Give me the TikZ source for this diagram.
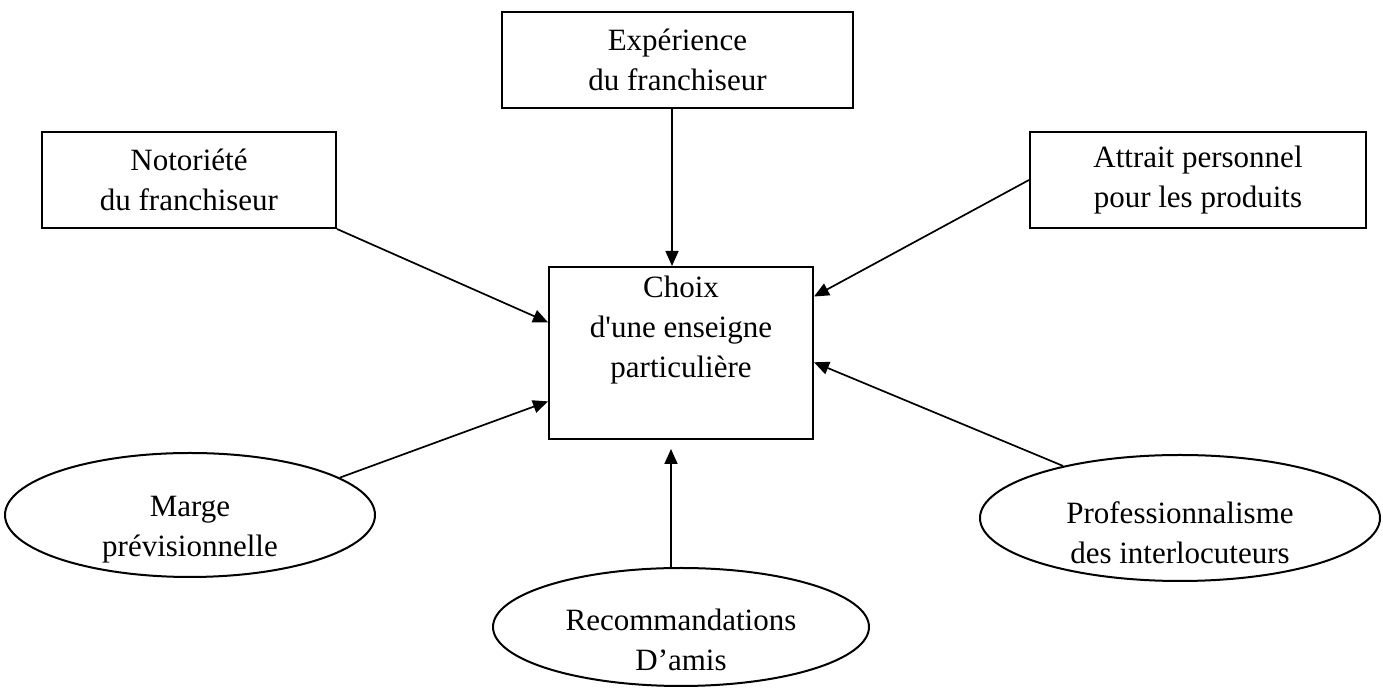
\documentclass[tikz,border=0pt]{standalone}
\usepackage{fontspec}
\setmainfont{Liberation Serif}
\usetikzlibrary{shapes.geometric,arrows.meta,calc}
\begin{document}
\begin{tikzpicture}[x=0.5pt,y=-0.5pt,
  box/.style={draw,line width=1pt,rectangle,inner sep=0pt,align=center,font=\fontsize{15.5}{20}\selectfont},
  oval/.style={draw,line width=1pt,ellipse,inner sep=0pt},
  txt/.style={align=center,inner sep=0pt,font=\fontsize{15.5}{20}\selectfont},
  conn/.style={line width=0.85pt,-{Triangle[length=7.5pt,width=6.5pt]}}]
\useasboundingbox (0,0) rectangle (1383,688);
\node[box,minimum width=175.5pt,minimum height=48pt] (exp) at (677.5,60) {Expérience\\du franchiseur};
\node[box,minimum width=147pt,minimum height=48pt] (noto) at (189,180) {Notoriété\\du franchiseur};
\node[box,minimum width=168pt,minimum height=48pt] (attr) at (1198,180) {Attrait personnel\\pour les produits};
\node[box,minimum width=132pt,minimum height=86pt] (choix) at (681,353) {Choix\\d\textquotesingle une enseigne\\particulière\\\strut};
\node[oval,minimum width=185pt,minimum height=62pt] (marge) at (190,515) {};
\node[txt] (margetxt) at (190,530) {Marge\\prévisionnelle};
\node[oval,minimum width=200pt,minimum height=63pt] (prof) at (1180,518) {};
\node[txt] (proftxt) at (1180,533) {Professionnalisme\\des interlocuteurs};
\node[oval,minimum width=188pt,minimum height=59pt] (reco) at (681,627) {};
\node[txt] (recotxt) at (681,640) {Recommandations\\D’amis};
\draw[conn] ([xshift=-2.75pt]exp.south) -- ([xshift=-4.5pt]choix.north);
\draw[conn] (noto.south east) -- (choix.167);
\draw[conn] (attr.west) -- (choix.23.7);
\draw[conn] (marge.14.5) -- (choix.200.7);
\draw[conn] (prof.156) -- (choix.-4.3);
\draw[conn,shorten >=4.5pt] ([xshift=-5pt]reco.north) -- ([xshift=-5pt]choix.south);
\end{tikzpicture}
\end{document}
